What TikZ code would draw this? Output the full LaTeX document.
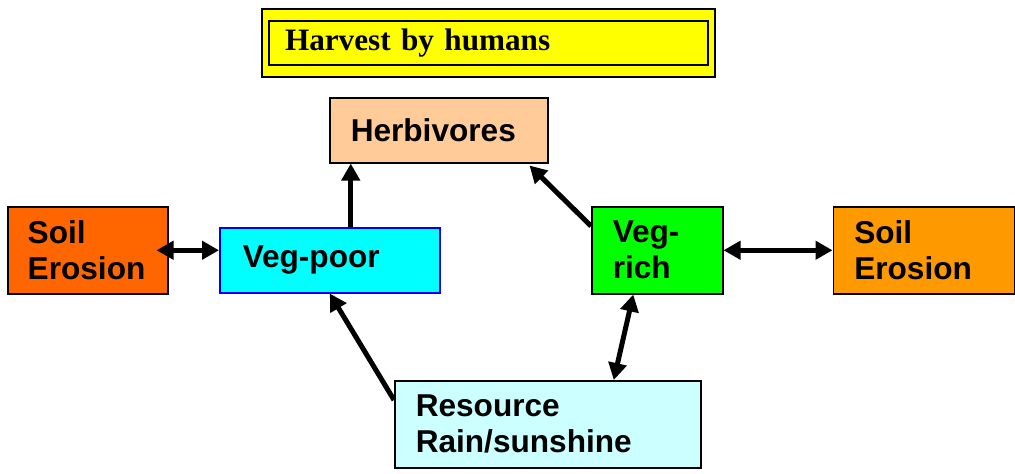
\documentclass[tikz,border=0pt]{standalone}
\usepackage{fontspec}
\setmainfont{Liberation Serif}
\setsansfont{Liberation Sans}
\usetikzlibrary{positioning, arrows.meta, calc, fit, backgrounds}
\tikzstyle{box} =[draw, line width=0.75pt, anchor=north west, align=left, inner ysep=0pt, font=\sffamily\bfseries\fontsize{15.8}{18}\selectfont]
\tikzstyle{link} =[-{Triangle[length=8.5pt, width=9pt]}, line width=2.5pt, black]
\tikzstyle{dlink} =[{Triangle[length=8.5pt, width=9pt]}-{Triangle[length=8.5pt, width=9pt]}, line width=2.5pt, black]
\definecolor{soilDark}{HTML}{FF6600}
\definecolor{soilLight}{HTML}{FF9900}
\definecolor{vegPoorCyan}{HTML}{00FFFF}
\definecolor{vegRichGreen}{HTML}{00FF00}
\definecolor{herbPeach}{HTML}{FFCC99}
\definecolor{resourceCyan}{HTML}{CCFFFF}
\definecolor{harvestYellow}{HTML}{FFFF00}

\begin{document}
\begin{tikzpicture}[x=0.5pt, y=-0.5pt]
\useasboundingbox (0,0) rectangle (1015,473);

\node (harvest) [box, line width=1pt, fill=harvestYellow, text width=203.5pt, inner xsep=8pt, minimum height=22pt, font=\rmfamily\bfseries\fontsize{15.6}{18}\selectfont] at (268,20) {Harvest by humans};

\node (herbivores) [box, fill=herbPeach, text width=88pt, inner xsep=10.5pt, minimum height=32.5pt] at (329,97) {Herbivores};

\node (soilLeft) [box, fill=soilDark, text width=60pt, inner xsep=10pt, minimum height=43.5pt] at (7,206) {Soil\\Erosion};

\node (vegPoor) [box, draw=blue, fill=vegPoorCyan, text width=87pt, inner xsep=11.5pt, minimum height=32.5pt] at (219,227) {Veg-poor};

\node (vegRich) [box, fill=vegRichGreen, text width=44.5pt, inner xsep=10.5pt, minimum height=43.5pt] at (591,206) {Veg-\\rich};

\node (soilRight) [box, fill=soilLight, text width=69.5pt, inner xsep=10.5pt, minimum height=43.5pt, right=54.5pt of vegRich] {Soil\\Erosion};

\node (resource) [box, fill=resourceCyan, text width=132pt, inner xsep=10.5pt, minimum height=43.5pt] at (394,380) {Resource\\Rain/sunshine};

\begin{scope}[on background layer]
\node (harvestBox) [fit=(harvest), inner xsep=3pt, inner ysep=5.5pt, draw, fill=harvestYellow, line width=1pt] {};
\end{scope}

\coordinate (vegPoorTop) at ($(vegPoor.north)+(21,0)$);

\draw[dlink, shorten <=-6pt]
	(soilLeft.east) -- (soilLeft.east -| vegPoor.west);

\draw[link]
	(vegPoorTop) -- (vegPoorTop |- herbivores.south);

\draw[link]
	($(vegRich.north west)+(0,20)$) -- ($(herbivores.south east)+(-19,2)$);

\draw[dlink]
	(vegRich.east) -- (soilRight.west);

\draw[link]
	($(resource.north west)+(0,20)$) -- (vegPoor.south);

\draw[dlink]
	($(resource.north)+(66,0)$) -- ($(vegRich.south)+(-24,0)$);
\end{tikzpicture}
\end{document}
